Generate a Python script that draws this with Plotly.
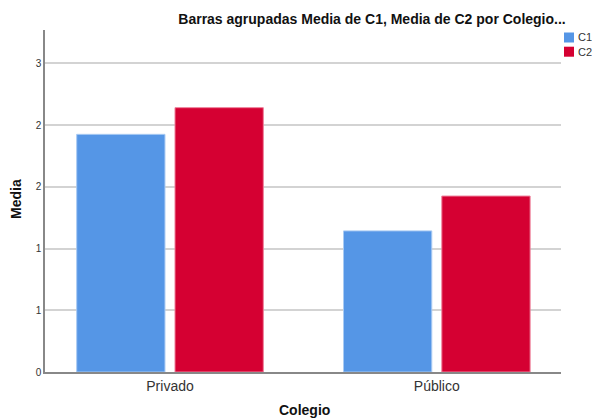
import plotly.graph_objects as go

categories = ["Privado", "Público"]
c1_values = [1.925, 1.143]
c2_values = [2.141, 1.425]
series_names = ["C1", "C2"]
series_colors = ["#5596E6", "#D50032"]
series_edges = ["#A9CBF3", "#EE7F99"]
y_tick_vals = [0, 0.5, 1.0, 1.5, 2.0, 2.5]
y_tick_text = ["0", "1", "1", "2", "2", "3"]

FONT = "Liberation Sans, Arial, sans-serif"
W, H = 592, 420
ML, MR, MT, MB = 45, 31, 30, 48

fig = go.Figure()
for name, vals, col, edge in zip(series_names, [c1_values, c2_values], series_colors, series_edges):
    fig.add_trace(go.Bar(
        x=categories, y=vals, name=name, showlegend=False,
        marker=dict(color=col, line=dict(color=edge, width=1)),
    ))

# page px -> paper coords helpers (for legend/titles only)
pw, ph = W - ML - MR, H - MT - MB
def px_x(x):
    return (x - ML) / pw
def px_y(y):
    return (H - MB - y) / ph

shapes = []
annotations = []
legend_rows = [37.5, 51.7]
for name, col, yc in zip(series_names, series_colors, legend_rows):
    shapes.append(dict(
        type="rect", xref="paper", yref="paper",
        x0=px_x(564), x1=px_x(574), y0=px_y(yc + 5), y1=px_y(yc - 5),
        fillcolor=col, line=dict(width=0),
    ))
    annotations.append(dict(
        text=name, xref="paper", yref="paper", x=px_x(576), y=px_y(yc),
        xanchor="left", yanchor="middle", showarrow=False,
        font=dict(size=11, color="#333333"),
    ))

annotations.append(dict(
    text="<b>Media</b>", xref="paper", yref="paper", x=px_x(16), y=px_y(199),
    xanchor="center", yanchor="middle", textangle=-90, showarrow=False,
    font=dict(size=14, color="#111111"),
))
annotations.append(dict(
    text="<b>Colegio</b>", xref="paper", yref="paper", x=px_x(304), y=px_y(410),
    xanchor="center", yanchor="middle", showarrow=False,
    font=dict(size=14, color="#111111"),
))

fig.update_layout(
    width=W, height=H,
    margin=dict(l=ML, r=MR, t=MT, b=MB, autoexpand=False),
    paper_bgcolor="white", plot_bgcolor="white",
    font=dict(family=FONT, color="#222222"),
    barmode="group", bargap=0.263, bargroupgap=0.102,
    title=dict(
        text="<b>Barras agrupadas Media de C1, Media de C2 por Colegio...</b>",
        x=372 / W, xref="container", xanchor="center",
        y=1 - 19 / H, yref="container", yanchor="middle",
        font=dict(size=14, color="#111111"),
    ),
    showlegend=False,
    shapes=shapes,
    annotations=annotations,
)

fig.update_xaxes(
    range=[-0.4685, 1.4655],
    showline=True, linecolor="#888888", linewidth=1.5,
    ticks="", showgrid=False, automargin=False,
    tickfont=dict(size=14, color="#333333"),
)
fig.update_yaxes(
    range=[0, 2.77],
    tickvals=y_tick_vals, ticktext=y_tick_text,
    showline=True, linecolor="#888888", linewidth=1.5,
    showgrid=True, gridcolor="#D3D3D3", gridwidth=1.5,
    ticks="", zeroline=False, automargin=False,
    tickfont=dict(size=10, color="#333333"),
)

fig.write_html(
    "out.html",
    config={"displayModeBar": False},
    post_script="document.body.style.margin='0';document.body.style.overflow='hidden';",
)
